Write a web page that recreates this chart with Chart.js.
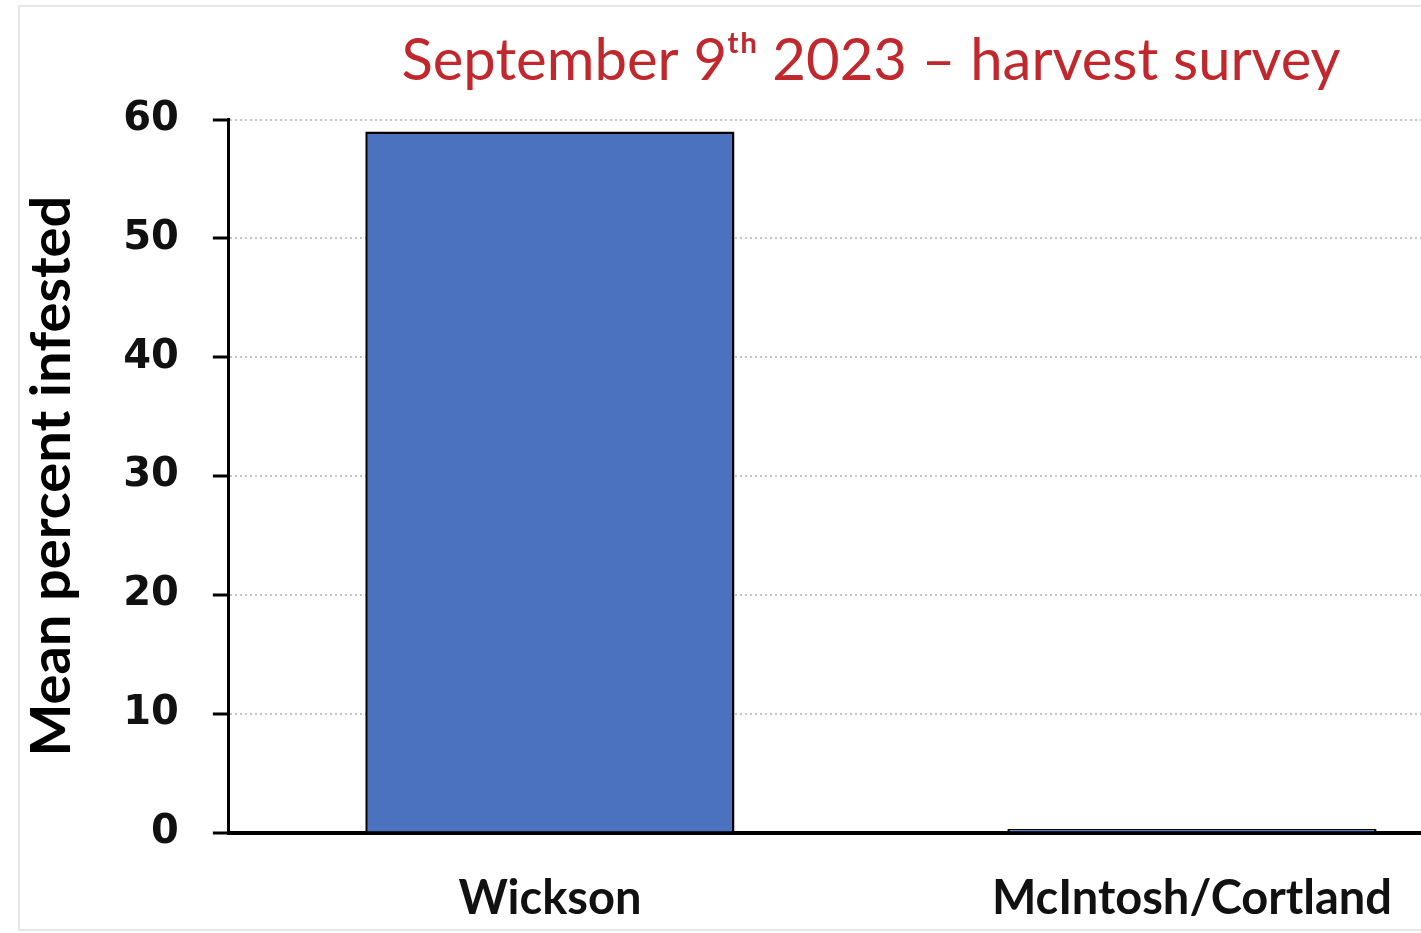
<!DOCTYPE html>
<html>
<head>
<meta charset="utf-8">
<script src="https://cdn.jsdelivr.net/npm/chart.js@4.4.0/dist/chart.umd.min.js"></script>
<style>
  html, body { margin: 0; padding: 0; background: #fff; overflow: hidden; }
  #frame { position: absolute; left: 18px; top: 5px; width: 1560px; height: 922px; border: 2px solid #e6e6e6; }
  #wrap { position: absolute; left: 0; top: 0; width: 1540px; height: 967px; }
</style>
</head>
<body>
<div id="frame"></div>
<div id="wrap"><canvas id="chart"></canvas></div>
<script>
var categories = ['Wickson', 'McIntosh/Cortland'];
var meanInfested = [59, 0.3];
var yTicks = [0, 10, 20, 30, 40, 50, 60];

var calibriLike = 'Lato, "Open Sans", sans-serif';

new Chart(document.getElementById('chart').getContext('2d'), {
    type: 'bar',
    data: {
        labels: categories,
        datasets: [{
            label: 'Mean percent infested',
            data: meanInfested,
            backgroundColor: '#4a72be',
            borderColor: '#000',
            borderWidth: 2.5,
            categoryPercentage: 1,
            barPercentage: 0.575
        }]
    },
    options: {
        responsive: true,
        maintainAspectRatio: false,
        animation: false,
        layout: {
            padding: { left: 18, right: 27, top: 26, bottom: 10 }
        },
        plugins: {
            legend: { display: false },
            tooltip: { enabled: false },
            title: {
                display: true,
                fullSize: false,
                text: 'September 9\u1d57\u02b0 2023 \u2013 harvest survey',
                color: '#c0282d',
                font: { family: calibriLike, size: 58, weight: 'normal' },
                padding: { top: 0, bottom: 24 }
            }
        },
        scales: {
            x: {
                grid: { display: false },
                border: { display: true, color: '#000', width: 4 },
                ticks: {
                    color: '#111',
                    font: { family: calibriLike, size: 47, weight: 'bold' },
                    padding: 30
                }
            },
            y: {
                min: 0,
                max: 60,
                afterBuildTicks: function(scale) {
                    scale.ticks = yTicks.map(function(v) { return { value: v }; });
                },
                grid: {
                    color: '#c4c4c4',
                    lineWidth: 2,
                    tickColor: '#000',
                    tickLength: 16,
                    tickWidth: 3
                },
                border: { display: true, color: '#000', width: 3, dash: [2, 3] },
                ticks: {
                    color: '#111',
                    font: { family: '"DejaVu Sans", Verdana, sans-serif', size: 40, weight: 'bold' },
                    padding: 34
                },
                title: {
                    display: true,
                    text: 'Mean percent infested',
                    color: '#000',
                    font: { family: calibriLike, size: 56, weight: 'bold' },
                    padding: { top: 0, bottom: 4 }
                }
            }
        }
    }
});
</script>
</body>
</html>
